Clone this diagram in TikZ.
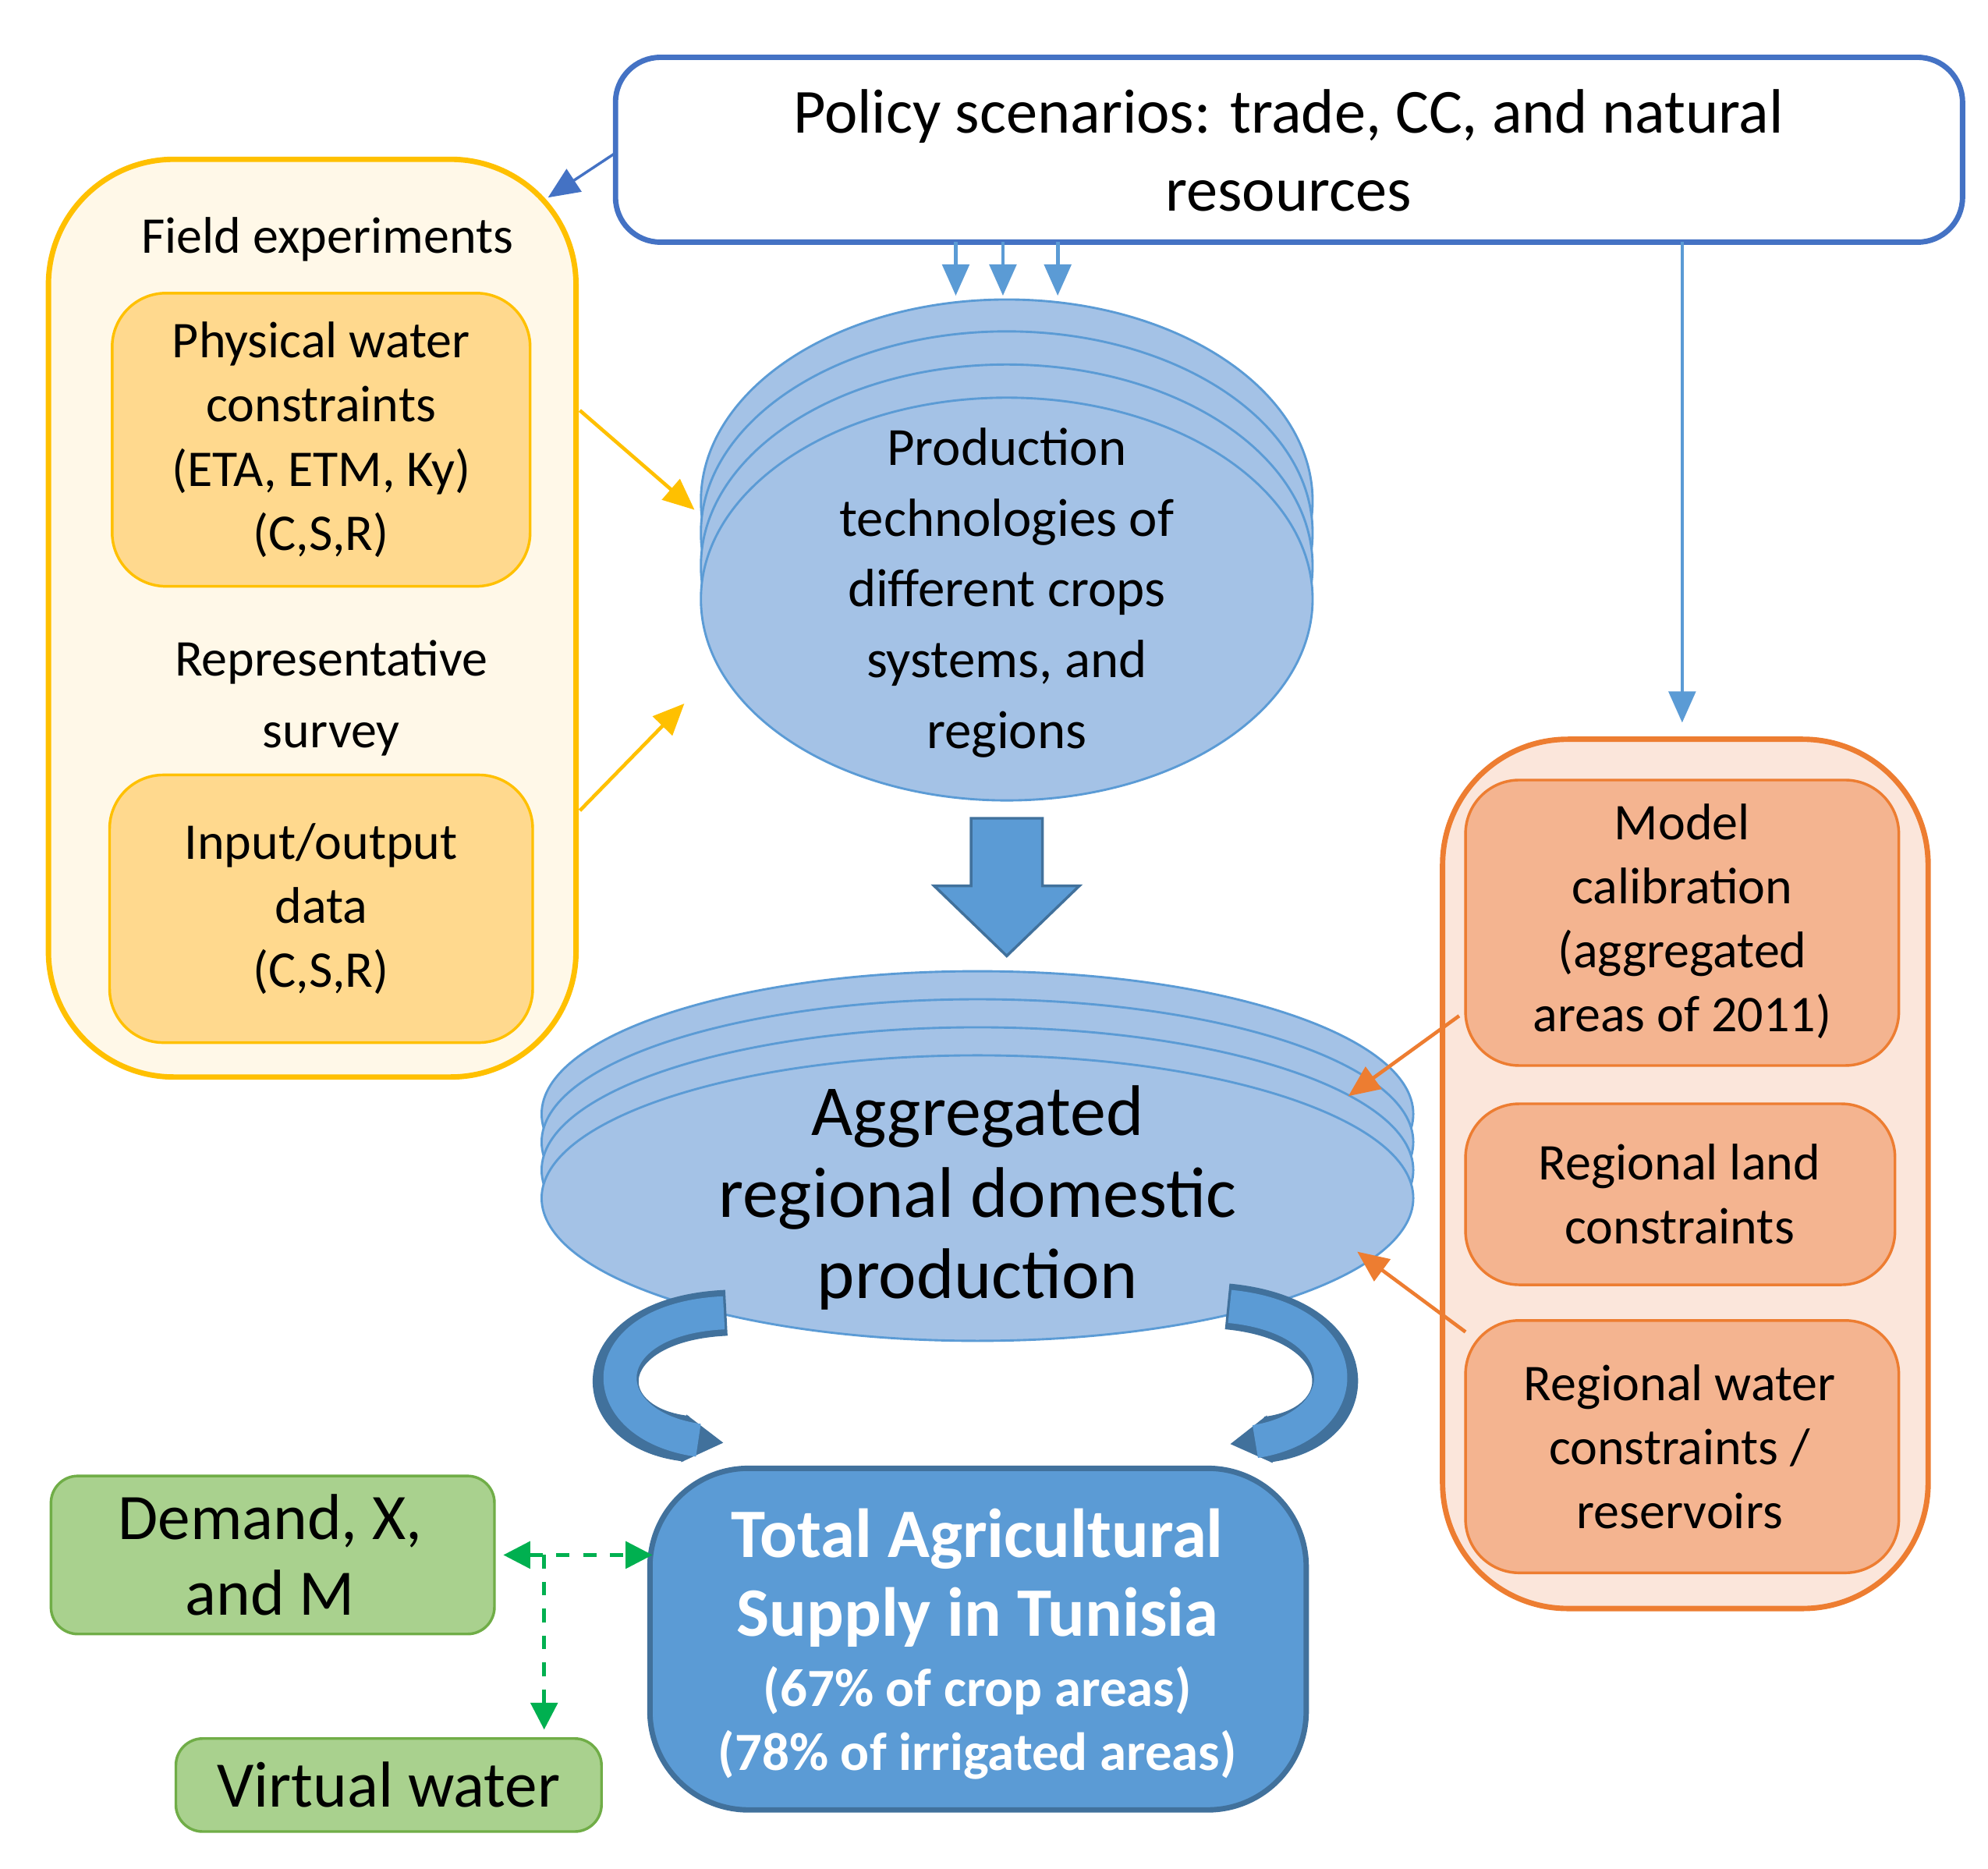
\documentclass[tikz,border=0pt]{standalone}
\usepackage{fontspec}
\setmainfont{Carlito}
\usetikzlibrary{arrows.meta}
\definecolor{pblue}{HTML}{4472C4}
\definecolor{lblue}{HTML}{5B9BD5}
\definecolor{dblue}{HTML}{41719C}
\definecolor{ell}{HTML}{A4C2E6}
\definecolor{yel}{HTML}{FFC000}
\definecolor{yfill}{HTML}{FFD98E}
\definecolor{ybg}{HTML}{FFF8E8}
\definecolor{org}{HTML}{ED7D31}
\definecolor{ofill}{HTML}{F4B490}
\definecolor{obg}{HTML}{FBE6DB}
\definecolor{grn}{HTML}{70AD47}
\definecolor{gfill}{HTML}{A9D18E}
\definecolor{dgrn}{HTML}{00B050}
\begin{document}
\begin{tikzpicture}[x=0.1mm,y=-0.1mm,
 txt/.style={align=center,font=\fontsize{11.5}{14.3}\selectfont},
 ybox/.style={draw=yel,fill=yfill,rounded corners=12pt,line width=0.6pt},
 obox/.style={draw=org,fill=ofill,rounded corners=12pt,line width=0.6pt},
 gbox/.style={draw=grn,fill=gfill,rounded corners=6pt,line width=0.6pt},
 ellp/.style={draw=lblue,fill=ell,line width=0.5pt},
 tip/.style={-{Triangle[length=7pt,width=6pt]}}]
\useasboundingbox (0,0) rectangle (1560,1466);
% policy
\draw[pblue,line width=1.2pt,fill=white,rounded corners=10pt] (483,45) rectangle (1540,190);
\node[txt,font=\fontsize{14}{17.5}\selectfont] (pol) at (1011,118) {Policy scenarios: trade, CC, and natural\\resources};
% yellow panel
\draw[yel,line width=1.2pt,fill=ybg,rounded corners=28pt] (38,125) rectangle (452,845);
\node[txt] (fe) at (257,188) {Field experiments};
\draw[ybox] (88,230) rectangle (416,460);
\node[txt] (pw) at (252,345) {Physical water\\constraints\\(ETA, ETM, Ky)\\(C,S,R)};
\node[txt,font=\fontsize{11.5}{16}\selectfont] (rs) at (260,548) {Representative\\survey};
\draw[ybox] (86,608) rectangle (418,818);
\node[txt] (io) at (252,713) {Input/output\\data\\(C,S,R)};
% production ellipses
\foreach \c in {393,418,444,470} \draw[ellp] (790,\c) ellipse (240 and 158);
\node[txt,font=\fontsize{12}{15.8}\selectfont] (prod) at (790,465) {Production\\technologies of\\different crops\\systems, and\\regions};
\foreach \x in {750,787,830} {\coordinate (a\x) at (\x,190); \coordinate (b\x) at (\x,232);
 \draw[lblue,line width=0.8pt,tip] (a\x) -- (b\x);}
\draw[pblue,line width=0.6pt,tip] (483,120) -- (430,155);
\draw[yel,line width=0.8pt,tip] (455,322) -- (545,400);
\draw[yel,line width=0.8pt,tip] (455,636) -- (537,552);
% big arrow
\draw[dblue,fill=lblue,line width=0.6pt] (762,642) -- (818,642) -- (818,695) -- (847,695) -- (790,750) -- (733,695) -- (762,695) -- cycle;
% aggregated ellipses
\foreach \c in {874,896,918,940} \draw[ellp] (767,\c) ellipse (342 and 112);
\node[txt,font=\fontsize{16}{18.2}\selectfont] (agg) at (767,940) {Aggregated\\regional domestic\\production};
% curved arrows
\draw[dblue,line width=3.6mm,-{Triangle[length=9pt,width=10pt]}] (570,1030) .. controls (460,1035) and (460,1120) .. (568,1132);
\draw[lblue,line width=2.6mm] (568,1030) .. controls (463,1035) and (463,1118) .. (548,1130);
\draw[dblue,line width=3.6mm,-{Triangle[length=9pt,width=10pt]}] (963,1025) .. controls (1070,1035) and (1070,1120) .. (965,1133);
\draw[lblue,line width=2.6mm] (965,1025) .. controls (1067,1035) and (1067,1118) .. (985,1131);
% total
\draw[dblue,fill=lblue,line width=1.2pt,rounded corners=22pt] (510,1152) rectangle (1025,1420);
\node[txt,text=white,font=\bfseries\fontsize{15.5}{17.5}\selectfont] (tot) at (767,1238) {Total Agricultural\\Supply in Tunisia};
\node[txt,text=white,font=\bfseries\fontsize{12}{14.3}\selectfont] (pct) at (767,1352) {(67\% of crop areas)\\(78\% of irrigated areas)};
% green
\draw[gbox] (40,1158) rectangle (388,1282);
\node[txt,font=\fontsize{14.5}{17}\selectfont] (dem) at (212,1220) {Demand, X,\\and M};
\draw[gbox] (138,1364) rectangle (472,1437);
\node[txt,font=\fontsize{14.5}{17}\selectfont] (vw) at (305,1400) {Virtual water};
\coordinate (gl) at (395,1220); \coordinate (gr) at (512,1220);
\coordinate (gm) at (427,1220); \coordinate (gd) at (427,1357);
\draw[dgrn,dashed,line width=0.8pt,{Triangle[length=6pt,width=6pt]}-{Triangle[length=6pt,width=6pt]}] (gl) -- (gr);
\draw[dgrn,dashed,line width=0.8pt,-{Triangle[length=6pt,width=6pt]}] (gm) -- (gd);
% policy down line
\draw[lblue,line width=0.8pt,tip] (1320,190) -- (1320,567);
% orange panel
\draw[org,line width=1.2pt,fill=obg,rounded corners=28pt] (1132,580) rectangle (1513,1262);
\draw[obox] (1150,612) rectangle (1490,836);
\node[txt] (mc) at (1320,723) {Model\\calibration\\(aggregated\\areas of 2011)};
\draw[obox] (1150,866) rectangle (1487,1008);
\node[txt] (rl) at (1318,937) {Regional land\\constraints};
\draw[obox] (1150,1036) rectangle (1490,1234);
\node[txt] (rw) at (1318,1135) {Regional water\\constraints /\\reservoirs};
\draw[org,line width=0.8pt,tip] (1145,797) -- (1058,860);
\draw[org,line width=0.8pt,tip] (1150,1045) -- (1065,982);
\end{tikzpicture}
\end{document}
